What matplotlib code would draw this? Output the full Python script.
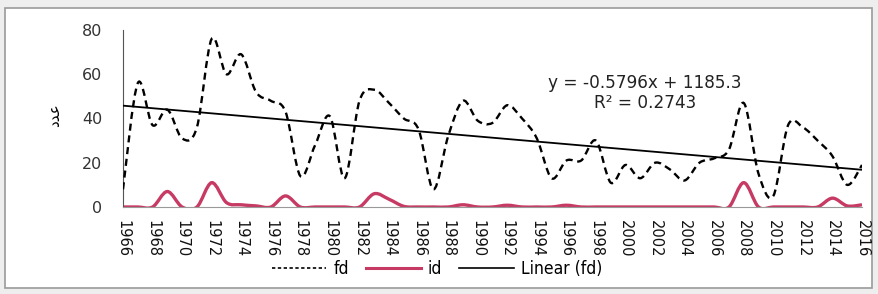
import numpy as np
import matplotlib
matplotlib.use("Agg")
import matplotlib.pyplot as plt
from matplotlib.path import Path
from matplotlib.patches import PathPatch, Rectangle
from matplotlib.lines import Line2D
from matplotlib.font_manager import FontProperties

# data
years = list(range(1966, 2017))
fd = [8, 56, 37, 44, 31, 36, 76, 60, 69, 52,
      48, 43, 14, 28, 41, 13, 48, 53, 47, 40,
      35, 8, 32, 48, 39, 38, 46, 40, 31, 13,
      21, 21, 30, 11, 19, 13, 20, 17, 12, 20,
      22, 26, 47, 15, 5, 37, 36, 30, 23, 10,
      19]
id_ = [0, 0, 0, 7, 0, 0, 11, 2, 1, 0.5,
       0, 5, 0, 0, 0, 0, 0, 6, 3.5, 0.3,
       0, 0, 0, 1, 0, 0, 0.8, 0, 0, 0,
       0.8, 0, 0, 0, 0, 0, 0, 0, 0, 0,
       0, 0, 11, 0, 0, 0, 0, 0, 4, 0.5,
       1]
trend_slope = -0.5796
trend_icept = 1185.3
eq_text = "y = -0.5796x + 1185.3"
r2_text = "R\u00b2 = 0.2743"
ylabel = "\ufea9\ufeaa\ufecb"  # Arabic label, presentation forms

PINK = "#c73a63"


def smooth_path(x, y):
    """Excel-like smoothed line: Catmull-Rom through the points as cubic Beziers."""
    p = np.column_stack([x, y]).astype(float)
    ext = np.vstack([p[0], p, p[-1]])
    verts = [p[0]]
    codes = [Path.MOVETO]
    for i in range(len(p) - 1):
        p0, p1, p2, p3 = ext[i], ext[i + 1], ext[i + 2], ext[i + 3]
        c1 = p1 + (p2 - p0) / 6
        c2 = p2 - (p3 - p1) / 6
        verts += [c1, c2, p2]
        codes += [Path.CURVE4] * 3
    return Path(verts, codes)


fig = plt.figure(figsize=(8.79, 2.94), dpi=100)
fig.patch.set_facecolor("#eeeeee")
fig.patches.append(Rectangle((5 / 879, 1 - 288 / 294), 867 / 879, 280 / 294,
                             transform=fig.transFigure, facecolor="white",
                             edgecolor="#9a9a9a", linewidth=1.2, zorder=-5))

ax = fig.add_axes([123 / 879, 1 - 207 / 294, (862 - 123) / 879, (207 - 30) / 294])
ax.set_facecolor("none")
ax.set_zorder(2)

ax.add_patch(PathPatch(smooth_path(years, id_), facecolor="none", edgecolor=PINK,
                       linewidth=2.4, zorder=2))
ax.add_patch(PathPatch(smooth_path(years, fd), facecolor="none", edgecolor="black",
                       linewidth=1.7, linestyle=(0, (3, 2)), zorder=3))
yr = np.array([years[0], years[-1]])
ax.plot(yr, trend_slope * yr + trend_icept, color="black", linewidth=1.3, zorder=4)

ax.set_xlim(1966, 2016)
ax.set_ylim(0, 80)
ax.set_xticks(years[::2])
ax.set_xticklabels([str(y) for y in years[::2]], rotation=-90, fontsize=10.5)
ax.set_yticks([0, 20, 40, 60, 80])
ax.tick_params(axis="y", length=0, pad=15, labelsize=11.5, colors="#333333")
ax.tick_params(axis="x", length=0, pad=9, colors="#111111")
for s in ("top", "right"):
    ax.spines[s].set_visible(False)
ax.spines["left"].set_color("#555555")
ax.spines["bottom"].set_color("#999999")

ax.text(645 / 879, 1 - 83 / 294, eq_text, transform=fig.transFigure, ha="center",
        va="center", fontsize=12.2, color="#222222")
ax.text(645 / 879, 1 - 103 / 294, r2_text, transform=fig.transFigure, ha="center",
        va="center", fontsize=12.2, color="#222222")

fig.text(55 / 879, 1 - 115 / 294, ylabel, rotation=90, ha="center", va="center",
         fontsize=11, family="DejaVu Sans")

handles = [Line2D([], [], color="black", linestyle=(0, (2, 1.5)), linewidth=1.2),
           Line2D([], [], color=PINK, linewidth=2.2),
           Line2D([], [], color="black", linewidth=1.2)]
leg_font = FontProperties(family="DejaVu Sans", stretch="condensed", size=12.5)
fig.legend(handles, ["fd", "id", "Linear (fd)"], loc="center",
           bbox_to_anchor=(437 / 879, 1 - 269 / 294), ncol=3, frameon=False,
           handlelength=3.15, columnspacing=1.0, handletextpad=0.4, prop=leg_font)

fig.savefig("out.png", dpi=100)
